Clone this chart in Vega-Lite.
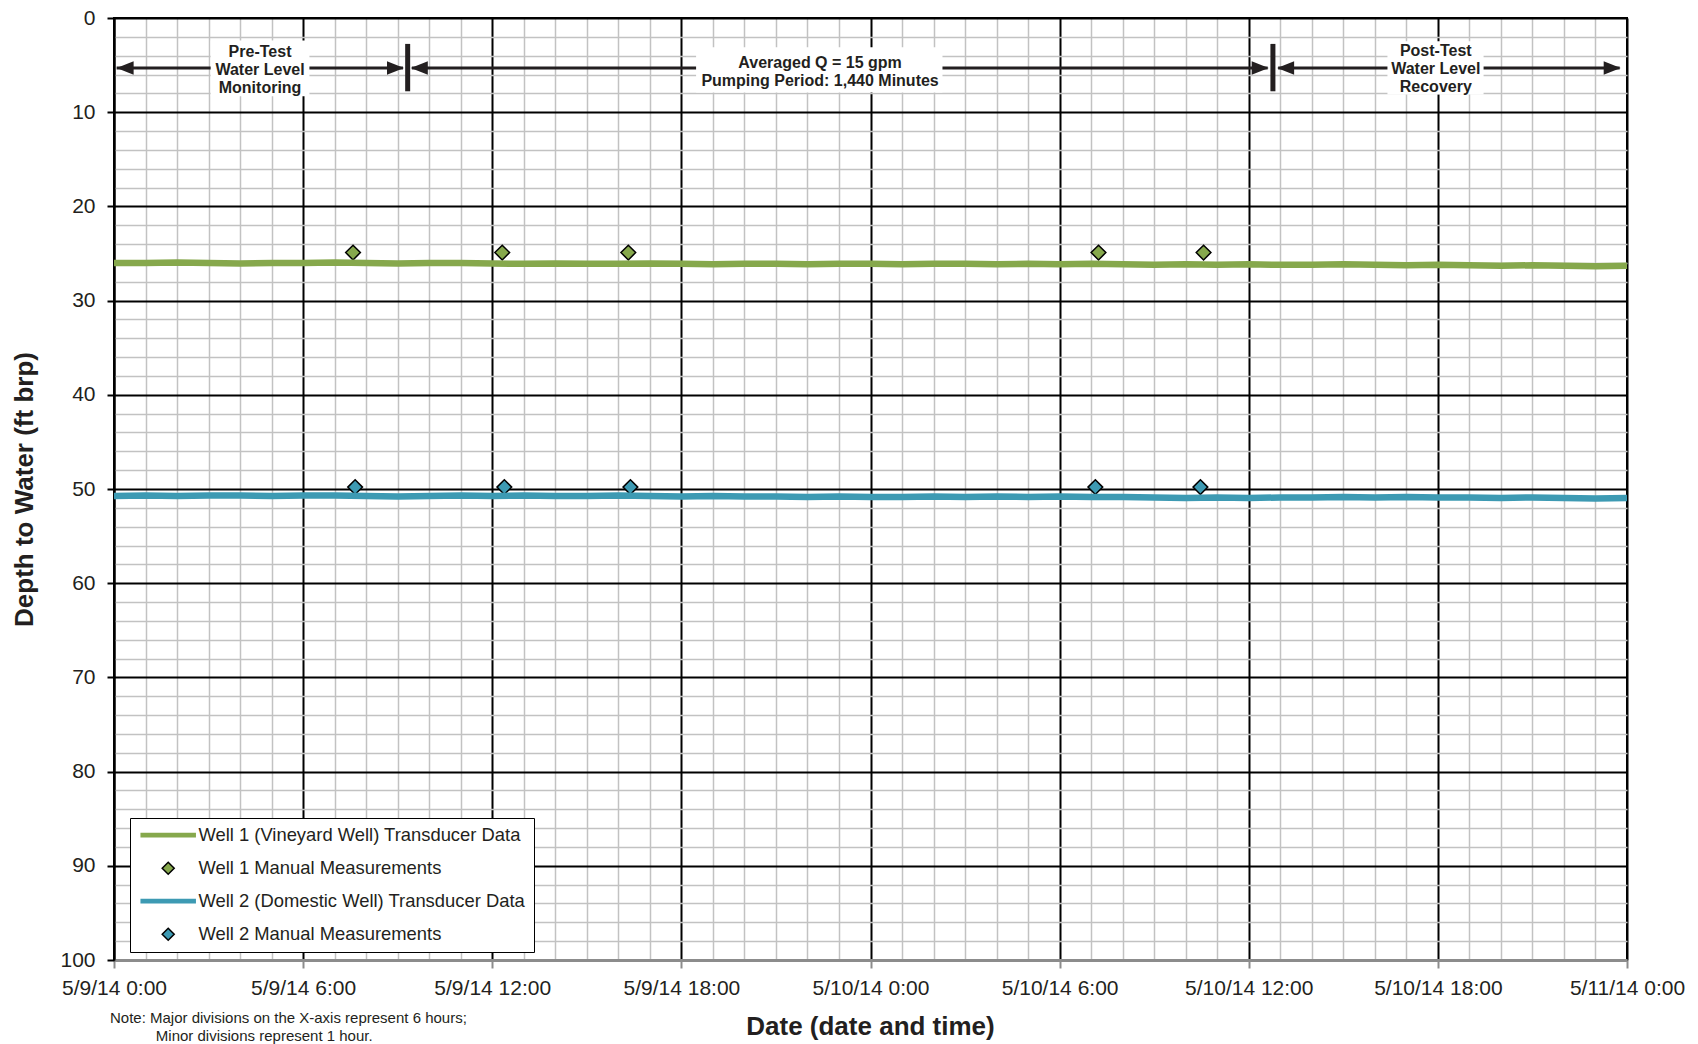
{
  "$schema": "https://vega.github.io/schema/vega-lite/v6.json",
  "autosize": {"type": "none"},
  "width": 1513,
  "height": 942,
  "padding": {"left": 114, "top": 18, "right": 71, "bottom": 84},
  "background": "white",
  "config": {
    "font": "Liberation Sans",
    "view": {"stroke": "#000000", "strokeWidth": 2}
  },
  "title": {
    "text": ["Note: Major divisions on the X-axis represent 6 hours;", "\u200b\u00a0\u00a0\u00a0\u00a0\u00a0\u00a0\u00a0\u00a0\u00a0\u00a0\u00a0Minor divisions represent 1 hour."],
    "orient": "bottom", "anchor": "start", "frame": "group", "align": "left",
    "offset": 0, "dx": -4, "dy": -28,
    "fontSize": 15, "fontWeight": "normal", "color": "#231f20", "lineHeight": 17.5
  },
  "datasets": {
    "transducer": [
      {"t": "2014-05-09T00:00", "w1": 26.0, "w2": 50.75},
      {"t": "2014-05-09T01:00", "w1": 26.0, "w2": 50.7},
      {"t": "2014-05-09T02:00", "w1": 25.95, "w2": 50.75},
      {"t": "2014-05-09T03:00", "w1": 26.0, "w2": 50.7},
      {"t": "2014-05-09T04:00", "w1": 26.05, "w2": 50.7},
      {"t": "2014-05-09T05:00", "w1": 26.0, "w2": 50.75},
      {"t": "2014-05-09T06:00", "w1": 26.0, "w2": 50.7},
      {"t": "2014-05-09T07:00", "w1": 25.95, "w2": 50.7},
      {"t": "2014-05-09T08:00", "w1": 26.0, "w2": 50.75},
      {"t": "2014-05-09T09:00", "w1": 26.05, "w2": 50.8},
      {"t": "2014-05-09T10:00", "w1": 26.0, "w2": 50.75},
      {"t": "2014-05-09T11:00", "w1": 26.0, "w2": 50.7},
      {"t": "2014-05-09T12:00", "w1": 26.05, "w2": 50.75},
      {"t": "2014-05-09T13:00", "w1": 26.1, "w2": 50.7},
      {"t": "2014-05-09T14:00", "w1": 26.05, "w2": 50.75},
      {"t": "2014-05-09T15:00", "w1": 26.1, "w2": 50.75},
      {"t": "2014-05-09T16:00", "w1": 26.1, "w2": 50.7},
      {"t": "2014-05-09T17:00", "w1": 26.05, "w2": 50.75},
      {"t": "2014-05-09T18:00", "w1": 26.1, "w2": 50.8},
      {"t": "2014-05-09T19:00", "w1": 26.15, "w2": 50.75},
      {"t": "2014-05-09T20:00", "w1": 26.1, "w2": 50.8},
      {"t": "2014-05-09T21:00", "w1": 26.1, "w2": 50.8},
      {"t": "2014-05-09T22:00", "w1": 26.15, "w2": 50.85},
      {"t": "2014-05-09T23:00", "w1": 26.1, "w2": 50.8},
      {"t": "2014-05-10T00:00", "w1": 26.1, "w2": 50.85},
      {"t": "2014-05-10T01:00", "w1": 26.15, "w2": 50.85},
      {"t": "2014-05-10T02:00", "w1": 26.1, "w2": 50.8},
      {"t": "2014-05-10T03:00", "w1": 26.1, "w2": 50.85},
      {"t": "2014-05-10T04:00", "w1": 26.15, "w2": 50.8},
      {"t": "2014-05-10T05:00", "w1": 26.1, "w2": 50.85},
      {"t": "2014-05-10T06:00", "w1": 26.15, "w2": 50.8},
      {"t": "2014-05-10T07:00", "w1": 26.1, "w2": 50.85},
      {"t": "2014-05-10T08:00", "w1": 26.15, "w2": 50.85},
      {"t": "2014-05-10T09:00", "w1": 26.2, "w2": 50.9},
      {"t": "2014-05-10T10:00", "w1": 26.15, "w2": 50.95},
      {"t": "2014-05-10T11:00", "w1": 26.2, "w2": 50.9},
      {"t": "2014-05-10T12:00", "w1": 26.15, "w2": 50.95},
      {"t": "2014-05-10T13:00", "w1": 26.2, "w2": 50.9},
      {"t": "2014-05-10T14:00", "w1": 26.2, "w2": 50.9},
      {"t": "2014-05-10T15:00", "w1": 26.15, "w2": 50.85},
      {"t": "2014-05-10T16:00", "w1": 26.2, "w2": 50.9},
      {"t": "2014-05-10T17:00", "w1": 26.25, "w2": 50.85},
      {"t": "2014-05-10T18:00", "w1": 26.2, "w2": 50.9},
      {"t": "2014-05-10T19:00", "w1": 26.25, "w2": 50.9},
      {"t": "2014-05-10T20:00", "w1": 26.3, "w2": 50.95},
      {"t": "2014-05-10T21:00", "w1": 26.25, "w2": 50.9},
      {"t": "2014-05-10T22:00", "w1": 26.3, "w2": 50.95},
      {"t": "2014-05-10T23:00", "w1": 26.35, "w2": 51.0},
      {"t": "2014-05-11T00:00", "w1": 26.3, "w2": 50.95}
    ],
    "manual": [
      {"t": "2014-05-09T07:35", "depth": 24.9, "series": "m1"},
      {"t": "2014-05-09T12:19", "depth": 24.9, "series": "m1"},
      {"t": "2014-05-09T16:19", "depth": 24.9, "series": "m1"},
      {"t": "2014-05-10T07:14", "depth": 24.9, "series": "m1"},
      {"t": "2014-05-10T10:34", "depth": 24.9, "series": "m1"},
      {"t": "2014-05-09T07:39", "depth": 49.8, "series": "m2"},
      {"t": "2014-05-09T12:23", "depth": 49.8, "series": "m2"},
      {"t": "2014-05-09T16:23", "depth": 49.8, "series": "m2"},
      {"t": "2014-05-10T07:08", "depth": 49.8, "series": "m2"},
      {"t": "2014-05-10T10:28", "depth": 49.8, "series": "m2"}
    ],
    "boxes": [
      {"start": "2014-05-09T03:04", "end": "2014-05-09T06:12", "top": 2.4, "bottom": 8.3},
      {"start": "2014-05-09T18:28", "end": "2014-05-10T02:17", "top": 3.1, "bottom": 7.9},
      {"start": "2014-05-10T16:24", "end": "2014-05-10T19:27", "top": 2.47, "bottom": 8.13}
    ],
    "shafts": [
      {"start": "2014-05-09T00:05", "end": "2014-05-09T09:10", "depth": 5.3},
      {"start": "2014-05-09T09:27", "end": "2014-05-10T12:36", "depth": 5.3},
      {"start": "2014-05-10T12:56", "end": "2014-05-10T23:46", "depth": 5.3}
    ],
    "heads": [
      {"t": "2014-05-09T00:05", "depth": 5.3, "dir": "left"},
      {"t": "2014-05-09T09:12", "depth": 5.3, "dir": "right"},
      {"t": "2014-05-09T09:25", "depth": 5.3, "dir": "left"},
      {"t": "2014-05-10T12:38", "depth": 5.3, "dir": "right"},
      {"t": "2014-05-10T12:54", "depth": 5.3, "dir": "left"},
      {"t": "2014-05-10T23:48", "depth": 5.3, "dir": "right"}
    ],
    "bars": [
      {"t": "2014-05-09T09:19", "top": 2.75, "bottom": 7.78},
      {"t": "2014-05-10T12:46", "top": 2.75, "bottom": 7.78}
    ],
    "labels": [
      {"t": "2014-05-09T04:38", "depth": 3.6, "label": "Pre-Test\nWater Level\nMonitoring"},
      {"t": "2014-05-09T22:24", "depth": 4.77, "label": "Averaged Q = 15 gpm\nPumping Period: 1,440 Minutes"},
      {"t": "2014-05-10T17:56", "depth": 3.53, "label": "Post-Test\nWater Level\nRecovery"}
    ]
  },
  "resolve": {"axis": {"x": "independent", "y": "independent"}},
  "layer": [
    {
      "data": {"name": "manual"},
      "mark": {"type": "point", "size": 338, "strokeWidth": 1.5, "opacity": 1},
      "encoding": {
        "x": {
          "field": "t", "type": "temporal",
          "scale": {"domain": [{"year": 2014, "month": 5, "date": 9}, {"year": 2014, "month": 5, "date": 11}], "nice": false},
          "axis": {"orient": "bottom", "values": [
            {"year": 2014, "month": 5, "date": 9, "hours": 1}, {"year": 2014, "month": 5, "date": 9, "hours": 2}, {"year": 2014, "month": 5, "date": 9, "hours": 3}, {"year": 2014, "month": 5, "date": 9, "hours": 4}, {"year": 2014, "month": 5, "date": 9, "hours": 5},
            {"year": 2014, "month": 5, "date": 9, "hours": 7}, {"year": 2014, "month": 5, "date": 9, "hours": 8}, {"year": 2014, "month": 5, "date": 9, "hours": 9}, {"year": 2014, "month": 5, "date": 9, "hours": 10}, {"year": 2014, "month": 5, "date": 9, "hours": 11},
            {"year": 2014, "month": 5, "date": 9, "hours": 13}, {"year": 2014, "month": 5, "date": 9, "hours": 14}, {"year": 2014, "month": 5, "date": 9, "hours": 15}, {"year": 2014, "month": 5, "date": 9, "hours": 16}, {"year": 2014, "month": 5, "date": 9, "hours": 17},
            {"year": 2014, "month": 5, "date": 9, "hours": 19}, {"year": 2014, "month": 5, "date": 9, "hours": 20}, {"year": 2014, "month": 5, "date": 9, "hours": 21}, {"year": 2014, "month": 5, "date": 9, "hours": 22}, {"year": 2014, "month": 5, "date": 9, "hours": 23},
            {"year": 2014, "month": 5, "date": 10, "hours": 1}, {"year": 2014, "month": 5, "date": 10, "hours": 2}, {"year": 2014, "month": 5, "date": 10, "hours": 3}, {"year": 2014, "month": 5, "date": 10, "hours": 4}, {"year": 2014, "month": 5, "date": 10, "hours": 5},
            {"year": 2014, "month": 5, "date": 10, "hours": 7}, {"year": 2014, "month": 5, "date": 10, "hours": 8}, {"year": 2014, "month": 5, "date": 10, "hours": 9}, {"year": 2014, "month": 5, "date": 10, "hours": 10}, {"year": 2014, "month": 5, "date": 10, "hours": 11},
            {"year": 2014, "month": 5, "date": 10, "hours": 13}, {"year": 2014, "month": 5, "date": 10, "hours": 14}, {"year": 2014, "month": 5, "date": 10, "hours": 15}, {"year": 2014, "month": 5, "date": 10, "hours": 16}, {"year": 2014, "month": 5, "date": 10, "hours": 17},
            {"year": 2014, "month": 5, "date": 10, "hours": 19}, {"year": 2014, "month": 5, "date": 10, "hours": 20}, {"year": 2014, "month": 5, "date": 10, "hours": 21}, {"year": 2014, "month": 5, "date": 10, "hours": 22}, {"year": 2014, "month": 5, "date": 10, "hours": 23}
          ], "grid": true, "gridColor": "#c2c2c2", "gridWidth": 1.5, "labels": false, "ticks": false, "domain": false, "title": null}
        },
        "y": {
          "field": "depth", "type": "quantitative",
          "scale": {"domain": [0, 100], "reverse": true, "nice": false, "zero": false},
          "axis": {"orient": "left", "values": [2, 4, 6, 8, 12, 14, 16, 18, 22, 24, 26, 28, 32, 34, 36, 38, 42, 44, 46, 48, 52, 54, 56, 58, 62, 64, 66, 68, 72, 74, 76, 78, 82, 84, 86, 88, 92, 94, 96, 98], "grid": true, "gridColor": "#c2c2c2", "gridWidth": 1.5, "labels": false, "ticks": false, "domain": false, "title": null}
        },
        "fill": {
          "field": "series", "type": "nominal",
          "scale": {"domain": ["w1", "m1", "w2", "m2"], "range": ["#86a84c", "#86a84c", "#3d9ab3", "#3d9ab3"]},
          "legend": {
            "orient": "none", "legendX": 16, "legendY": 800, "title": null, "direction": "vertical",
            "fillColor": "white", "strokeColor": "#000000", "padding": 8, "cornerRadius": 0,
            "rowPadding": 14, "symbolSize": 225, "symbolStrokeWidth": 1.5, "symbolOffset": 21, "labelOffset": 21,
            "labelFontSize": 18.4, "labelColor": "#231f20", "labelLimit": 500,
            "labelExpr": "datum.value === 'w1' ? 'Well 1 (Vineyard Well) Transducer Data' : datum.value === 'm1' ? 'Well 1 Manual Measurements' : datum.value === 'w2' ? 'Well 2 (Domestic Well) Transducer Data' : 'Well 2 Manual Measurements'"
          }
        },
        "stroke": {
          "field": "series", "type": "nominal",
          "scale": {"domain": ["w1", "m1", "w2", "m2"], "range": ["#86a84c", "#000000", "#3d9ab3", "#000000"]}
        },
        "shape": {
          "field": "series", "type": "nominal",
          "scale": {"domain": ["w1", "m1", "w2", "m2"], "range": ["M-3.6,-0.22L3.6,-0.22L3.6,0.22L-3.6,0.22Z", "M0,-0.8L0.8,0L0,0.8L-0.8,0Z", "M-3.6,-0.22L3.6,-0.22L3.6,0.22L-3.6,0.22Z", "M0,-0.8L0.8,0L0,0.8L-0.8,0Z"]}
        }
      }
    },
    {
      "data": {"name": "transducer"},
      "transform": [{"fold": ["w1", "w2"], "as": ["series", "depth"]}],
      "mark": {"type": "line", "strokeJoin": "round"},
      "encoding": {
        "x": {
          "field": "t", "type": "temporal",
          "axis": {"orient": "bottom", "values": [
            {"year": 2014, "month": 5, "date": 9, "hours": 0}, {"year": 2014, "month": 5, "date": 9, "hours": 6}, {"year": 2014, "month": 5, "date": 9, "hours": 12}, {"year": 2014, "month": 5, "date": 9, "hours": 18},
            {"year": 2014, "month": 5, "date": 10, "hours": 0}, {"year": 2014, "month": 5, "date": 10, "hours": 6}, {"year": 2014, "month": 5, "date": 10, "hours": 12}, {"year": 2014, "month": 5, "date": 10, "hours": 18},
            {"year": 2014, "month": 5, "date": 11, "hours": 0}
          ], "format": "%-m/%-d/%y %-H:%M", "grid": true, "gridColor": "#000000", "gridWidth": 2, "domainColor": "#8c8c8c", "domainWidth": 3, "tickColor": "#8c8c8c", "tickWidth": 2, "tickSize": 8, "labelFontSize": 21, "labelColor": "#231f20", "labelPadding": 9, "labelOverlap": false, "labelFlush": false, "labelBound": false, "title": "Date (date and time)", "titleFontSize": 26, "titleFontWeight": "bold", "titleColor": "#231f20", "titleX": 756, "titleY": 66, "titleBaseline": "middle", "titleAlign": "center"}
        },
        "y": {
          "field": "depth", "type": "quantitative",
          "axis": {"orient": "left", "values": [0, 10, 20, 30, 40, 50, 60, 70, 80, 90, 100], "grid": true, "gridColor": "#000000", "gridWidth": 2, "domainColor": "#000000", "domainWidth": 2, "tickColor": "#000000", "tickWidth": 2, "tickSize": 7, "labelFontSize": 21, "labelColor": "#231f20", "labelPadding": 12, "labelOverlap": false, "labelFlush": false, "title": "Depth to Water (ft brp)", "titleFontSize": 26, "titleFontWeight": "bold", "titleColor": "#231f20", "titleAngle": -90, "titleX": -90, "titleY": 471, "titleBaseline": "middle", "titleAlign": "center"}
        },
        "stroke": {"field": "series", "type": "nominal"},
        "strokeWidth": {"value": 6.5}
      }
    },
    {
      "data": {"name": "shafts"},
      "mark": {"type": "rule", "color": "#231f20", "strokeWidth": 3},
      "encoding": {
        "x": {"field": "start", "type": "temporal", "axis": null},
        "x2": {"field": "end"},
        "y": {"field": "depth", "type": "quantitative", "axis": null}
      }
    },
    {
      "data": {"name": "heads"},
      "transform": [{"filter": "datum.dir === 'left'"}],
      "mark": {"type": "point", "filled": true, "size": 289, "color": "#231f20", "opacity": 1, "shape": "M0,0L2,-0.8L2,0.8Z"},
      "encoding": {
        "x": {"field": "t", "type": "temporal", "axis": null},
        "y": {"field": "depth", "type": "quantitative", "axis": null}
      }
    },
    {
      "data": {"name": "heads"},
      "transform": [{"filter": "datum.dir === 'right'"}],
      "mark": {"type": "point", "filled": true, "size": 289, "color": "#231f20", "opacity": 1, "shape": "M0,0L-2,-0.8L-2,0.8Z"},
      "encoding": {
        "x": {"field": "t", "type": "temporal", "axis": null},
        "y": {"field": "depth", "type": "quantitative", "axis": null}
      }
    },
    {
      "data": {"name": "bars"},
      "mark": {"type": "rule", "color": "#231f20", "strokeWidth": 5},
      "encoding": {
        "x": {"field": "t", "type": "temporal", "axis": null},
        "y": {"field": "top", "type": "quantitative", "axis": null},
        "y2": {"field": "bottom"}
      }
    },
    {
      "data": {"name": "boxes"},
      "mark": {"type": "rect", "fill": "white"},
      "encoding": {
        "x": {"field": "start", "type": "temporal", "axis": null},
        "x2": {"field": "end"},
        "y": {"field": "top", "type": "quantitative", "axis": null},
        "y2": {"field": "bottom"}
      }
    },
    {
      "data": {"name": "labels"},
      "mark": {"type": "text", "lineBreak": "\n", "lineHeight": 18, "fontSize": 16, "fontWeight": "bold", "color": "#231f20", "align": "center", "baseline": "middle"},
      "encoding": {
        "x": {"field": "t", "type": "temporal", "axis": null},
        "y": {"field": "depth", "type": "quantitative", "axis": null},
        "text": {"field": "label"}
      }
    }
  ]
}
